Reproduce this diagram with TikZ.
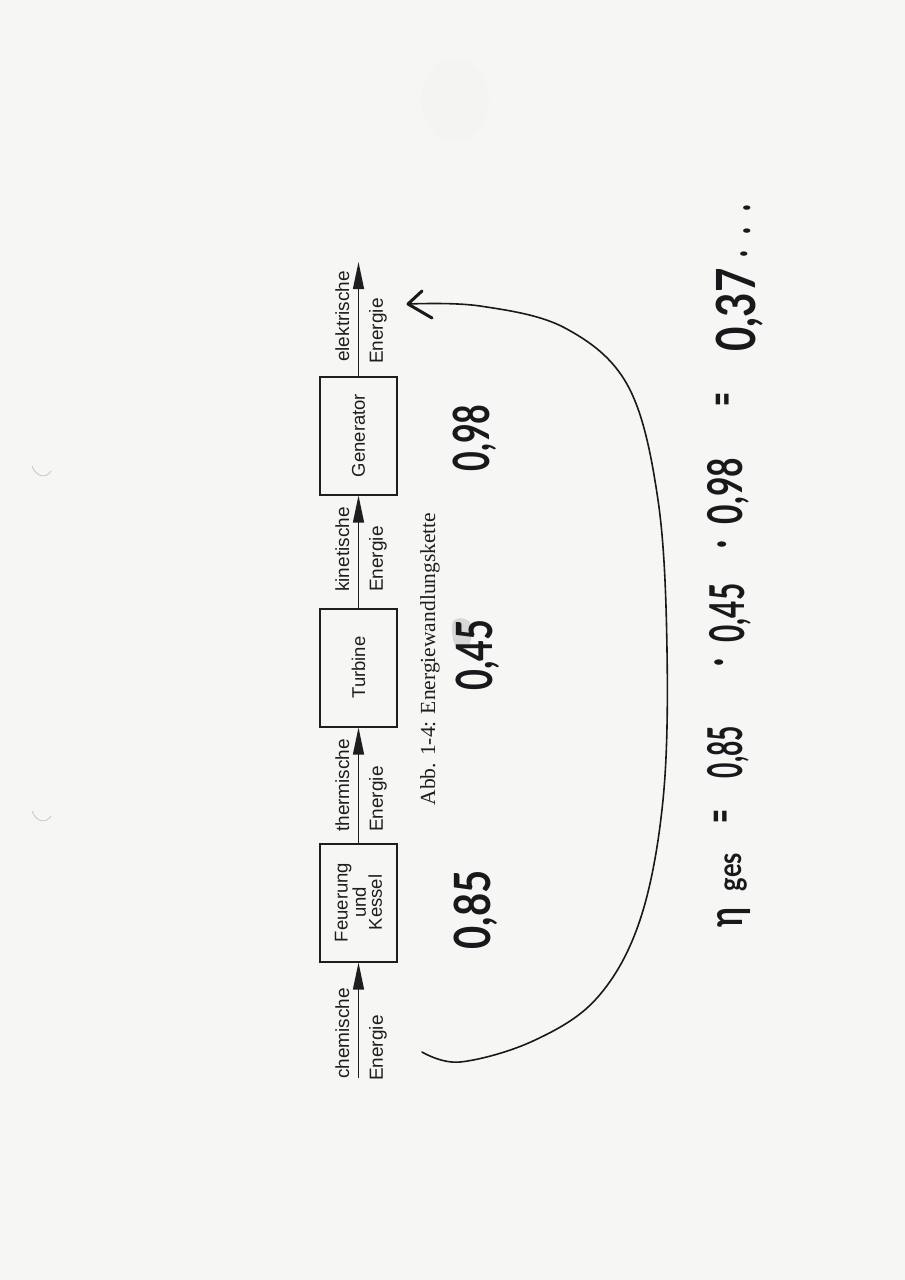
\documentclass[tikz,border=0pt]{standalone}
\usepackage{fontspec}
\setmainfont{Liberation Serif}
\newfontfamily\diagsans{Liberation Sans}
\newfontfamily\hwfont{Lato}
\usetikzlibrary{arrows.meta}
\definecolor{paper}{RGB}{246,246,245}
\definecolor{ink}{RGB}{30,30,30}
\definecolor{pen}{RGB}{25,25,28}
\newcommand\hwtext[2]{\scalebox{#1}[1]{#2}}
\begin{document}
\begin{tikzpicture}[x=1pt,y=-1pt,
  stepbox/.style={draw=ink, line width=2pt, rotate=90, minimum width=118pt, minimum height=77pt,
     inner sep=0pt, align=center, font=\diagsans\fontsize{18.5}{16}\selectfont, text=ink},
  flow/.style={draw=ink, line width=1.1pt, -{Triangle[length=27pt,width=11pt]}},
  lblup/.style={rotate=90, inner sep=0pt, anchor=base west, font=\diagsans\fontsize{19}{19}\selectfont, text=ink},
  lbldown/.style={rotate=90, inner sep=0pt, anchor=north west, font=\diagsans\fontsize{19}{19}\selectfont, text=ink},
  caption/.style={rotate=90, inner sep=0pt, font=\fontsize{21.5}{21.5}\selectfont, text=ink},
  hwbig/.style={rotate=90, inner sep=0pt, font=\hwfont\bfseries\fontsize{50}{50}\selectfont, text=pen},
  hw/.style={rotate=90, inner sep=0pt, font=\hwfont\bfseries\fontsize{48}{48}\selectfont, text=pen},
  hwsub/.style={rotate=90, inner sep=0pt, font=\hwfont\bfseries\fontsize{32}{32}\selectfont, text=pen},
  handline/.style={draw=pen, line width=1.7pt, line cap=round, line join=round}
]
\useasboundingbox (0,0) rectangle (905,1280);
\fill[paper] (0,0) rectangle (905,1280);
% faint scan marks
\fill[gray!10, opacity=0.45] (455,100) ellipse (34pt and 42pt);
\draw[gray!45, line width=0.8pt] (32,466) .. controls (36,477) and (46,479) .. (51,471);
\draw[gray!45, line width=0.8pt] (32,811) .. controls (36,822) and (46,824) .. (51,816);

% energy chain
\coordinate (in) at (358.5,1078);
\coordinate (out) at (358.5,262);
\node[stepbox] (feuer) at (358.5,902.5) {Feuerung\\und\\Kessel};
\node[stepbox] (turb) at (358.5,667.5) {Turbine};
\node[stepbox] (gen) at (358.5,435.5) {Generator};
\draw[flow] (in) -- (feuer.west);
\draw[flow] (feuer.east) -- (turb.west);
\draw[flow] (turb.east) -- (gen.west);
\draw[flow] (gen.east) -- (out);

\node[lblup] (l1a) at (349,1079) {chemische};
\node[lbldown] (l1b) at (369,1081) {Energie};
\node[lblup] (l2a) at (349,832) {thermische};
\node[lbldown] (l2b) at (369,832) {Energie};
\node[lblup] (l3a) at (349,592) {kinetische};
\node[lbldown] (l3b) at (369,592) {Energie};
\node[lblup] (l4a) at (349,362) {elektrische};
\node[lbldown] (l4b) at (369,364) {Energie};

\node[caption] (cap) at (430,659) {Abb. 1-4: Energiewandlungskette};

% handwritten efficiencies
\fill[gray!55, opacity=0.5] (452,628) .. controls (450,618) and (462,615) .. (470,622) .. controls (474,635) and (470,650) .. (462,652) .. controls (455,650) and (452,640) .. (452,628) -- cycle;
\node[hwbig] (e1) at (476,910) {\hwtext{0.8}{0,85}};
\node[hwbig] (e2) at (478,655) {\hwtext{0.72}{0,45}};
\node[hwbig] (e3) at (475,438) {\hwtext{0.68}{0,98}};

% loop arrow
\coordinate (cstart) at (422,1052);
\coordinate (tip) at (408,304);
\draw[handline, line width=1.6pt] plot[smooth, tension=0.6] coordinates {(cstart) (460,1062) (533,1041) (597,998) (640,920) (663,800) (667,650) (658,500) (628,386) (565,328) (480,306) (tip)};
\draw[handline, line width=3pt] (422,291) -- (tip) -- (432,318);

% formula
\node[hw] (eta) at (734,918) {\hwtext{0.7}{η}};
\node[hwsub] (ges) at (736,872) {\hwtext{0.8}{ges}};
\node[hw] (eq1) at (725,817) {\hwtext{0.5}{=}};
\node[hw] (f1) at (728,752) {\hwtext{0.55}{0,85}};
\node[hw] (d1) at (724,663) {\hwtext{0.6}{·}};
\node[hw] (f2) at (730,613) {\hwtext{0.62}{0,45}};
\node[hw] (d2) at (727,545) {\hwtext{0.6}{·}};
\node[hw] (f3) at (728,491) {\hwtext{0.7}{0,98}};
\node[hw] (eq2) at (727,400) {\hwtext{0.5}{=}};
\node[hw, font=\hwfont\bfseries\fontsize{54}{54}\selectfont] (f4) at (740,310) {\hwtext{0.78}{0,37}};
\node[hw] (dt1) at (744,254) {\hwtext{0.6}{.}};
\node[hw] (dt2) at (747,231) {\hwtext{0.6}{.}};
\node[hw] (dt3) at (747,208) {\hwtext{0.6}{.}};
\end{tikzpicture}
\end{document}
